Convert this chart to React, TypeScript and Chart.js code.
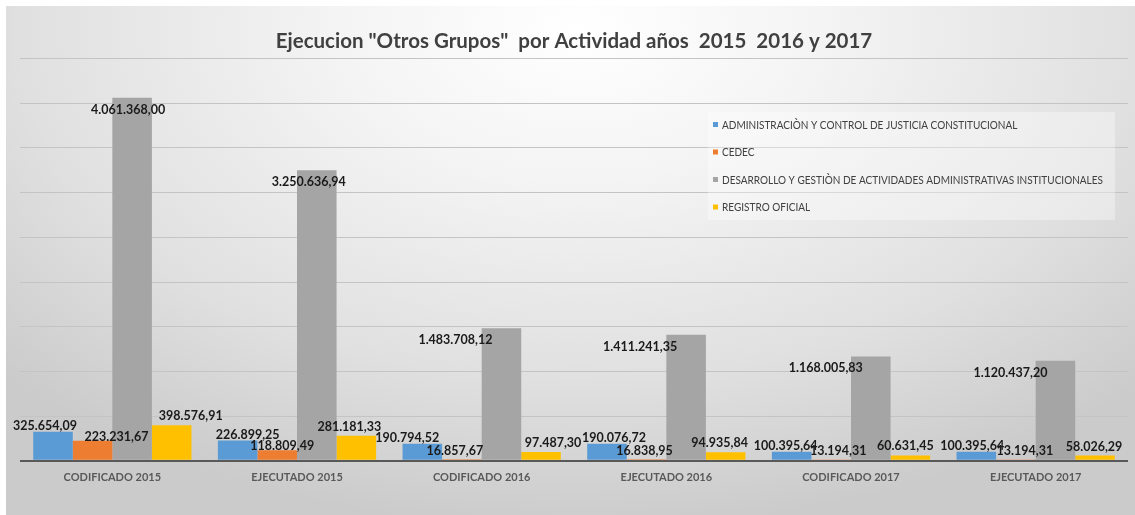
import React, { useEffect, useRef } from "react";
import { Chart, registerables } from "chart.js";

Chart.register(...registerables);

const categories = [
  "CODIFICADO 2015",
  "EJECUTADO 2015",
  "CODIFICADO 2016",
  "EJECUTADO 2016",
  "CODIFICADO 2017",
  "EJECUTADO 2017",
];
const seriesNames = [
  "ADMINISTRACIÒN Y CONTROL DE JUSTICIA CONSTITUCIONAL",
  "CEDEC",
  "DESARROLLO Y GESTIÒN DE ACTIVIDADES ADMINISTRATIVAS INSTITUCIONALES",
  "REGISTRO OFICIAL",
];
const administracion = [325654.09, 226899.25, 190794.52, 190076.72, 100395.64, 100395.64];
const cedec = [223231.67, 118809.49, 16857.67, 16838.95, 13194.31, 13194.31];
const desarrollo = [4061368.0, 3250636.94, 1483708.12, 1411241.35, 1168005.83, 1120437.2];
const registro = [398576.91, 281181.33, 97487.3, 94935.84, 60631.45, 58026.29];
const yMax = 4500000;
const yStep = 500000;

const colors = ["#5B9BD5", "#ED7D31", "#A5A5A5", "#FFC000"];
const titleText = 'Ejecucion "Otros Grupos"  por Actividad años  2015  2016 y 2017';

// label nudges (style): horizontal shift relative to bar centre, per series / category
const labelNudgeX = [
  [-8, 10, -15, 7, -6, -4],
  [24, 5, -7, -2, 7, 9],
  [-4, -8, -46, -46, -45, -45],
  [19, -7, 12, -6, -5, -1],
];

const FONT = "Lato, 'Noto Sans', sans-serif";

function fmt(v: number): string {
  const [i, d] = v.toFixed(2).split(".");
  return i.replace(/\B(?=(\d{3})+(?!\d))/g, ".") + "," + d;
}

const backgroundPlugin = {
  id: "bgGrad",
  beforeDraw(chart: any) {
    const { ctx, width, height } = chart;
    ctx.save();
    ctx.fillStyle = "#ffffff";
    ctx.fillRect(0, 0, width, height);
    ctx.translate(580, 30);
    ctx.scale(1.6, 1);
    const g = ctx.createRadialGradient(0, 0, 0, 0, 0, 500);
    g.addColorStop(0, "#ffffff");
    g.addColorStop(0.3, "#f4f4f4");
    g.addColorStop(0.7, "#e0e0e0");
    g.addColorStop(1, "#cbcbcb");
    ctx.fillStyle = g;
    ctx.fillRect((6 - 580) / 1.6, 6 - 30, (width - 6) / 1.6, height);
    ctx.restore();
  },
};

const labelsPlugin = {
  id: "barLabels",
  afterDatasetsDraw(chart: any) {
    const { ctx } = chart;
    const base = chart.scales.y.getPixelForValue(0);
    ctx.save();
    ctx.font = "bold 12.5px " + FONT;
    ctx.fillStyle = "#1a1a1a";
    ctx.textAlign = "center";
    ctx.textBaseline = "middle";
    chart.data.datasets.forEach((ds: any, i: number) => {
      const meta = chart.getDatasetMeta(i);
      meta.data.forEach((el: any, j: number) => {
        const v = ds.data[j];
        const top = el.y;
        let cy: number;
        if (i === 0) cy = top - 6;
        else if (i === 1) cy = Math.min(top - 4, base - 10);
        else if (i === 2) cy = top + 12;
        else cy = top - 9;
        ctx.fillText(fmt(v), el.x + labelNudgeX[i][j], cy);
      });
    });
    ctx.restore();
  },
};

const legendPlugin = {
  id: "boxLegend",
  afterDraw(chart: any) {
    const { ctx } = chart;
    const x = 708;
    const y = 112;
    const w = 407;
    const h = 108;
    ctx.save();
    ctx.fillStyle = "rgba(255,255,255,0.35)";
    ctx.fillRect(x, y, w, h);
    ctx.font = "11px " + FONT;
    ctx.textBaseline = "middle";
    ctx.textAlign = "left";
    const longest = Math.max(...seriesNames.map((s) => ctx.measureText(s).width));
    const sx = Math.min(1, 381 / longest);
    seriesNames.forEach((name, i) => {
      const cy = 125 + i * 27.5;
      ctx.fillStyle = colors[i];
      ctx.fillRect(713, cy - 3, 5, 5);
      ctx.fillStyle = "#404040";
      ctx.save();
      ctx.translate(722, cy);
      ctx.scale(sx, 1);
      ctx.fillText(name, 0, 0);
      ctx.restore();
    });
    ctx.restore();
  },
};

export default function App() {
  const ref = useRef<HTMLCanvasElement | null>(null);
  useEffect(() => {
    const canvas = ref.current;
    if (!canvas) return;
    const seriesValues = [administracion, cedec, desarrollo, registro];
    const chart = new Chart(canvas, {
      type: "bar",
      data: {
        labels: categories,
        datasets: seriesValues.map((d, i) => ({
          label: seriesNames[i],
          data: d,
          backgroundColor: colors[i],
          borderWidth: 0,
          barPercentage: 1,
          categoryPercentage: 0.857,
        })),
      },
      options: {
        animation: false,
        responsive: false,
        devicePixelRatio: 1,
        layout: { padding: { left: 20, right: 7, top: 0, bottom: 29 } },
        plugins: {
          legend: { display: false },
          tooltip: { enabled: false },
          title: {
            display: true,
            text: titleText,
            color: "#404040",
            font: { family: FONT, size: 20.5, weight: "bold" },
            padding: { top: 29, bottom: 5 },
          },
        },
        scales: {
          x: {
            grid: { display: false },
            border: { display: false },
            ticks: {
              color: "#595959",
              font: { family: FONT, size: 11, weight: "bold" },
              padding: 2,
            },
          },
          y: {
            min: 0,
            max: yMax,
            ticks: { display: false, stepSize: yStep },
            border: { display: false },
            grid: {
              drawTicks: false,
              color: (c: any) => (c.tick && c.tick.value === 0 ? "#595959" : "#c4c4c4"),
              lineWidth: (c: any) => (c.tick && c.tick.value === 0 ? 2 : 1),
            },
          },
        },
      },
      plugins: [backgroundPlugin, labelsPlugin, legendPlugin],
    } as any);
    return () => chart.destroy();
  }, []);
  return (
    <div style={{ position: "absolute", left: 0, top: 0, width: 1135, height: 515 }}>
      <canvas ref={ref} width={1135} height={515} style={{ display: "block" }} />
    </div>
  );
}
